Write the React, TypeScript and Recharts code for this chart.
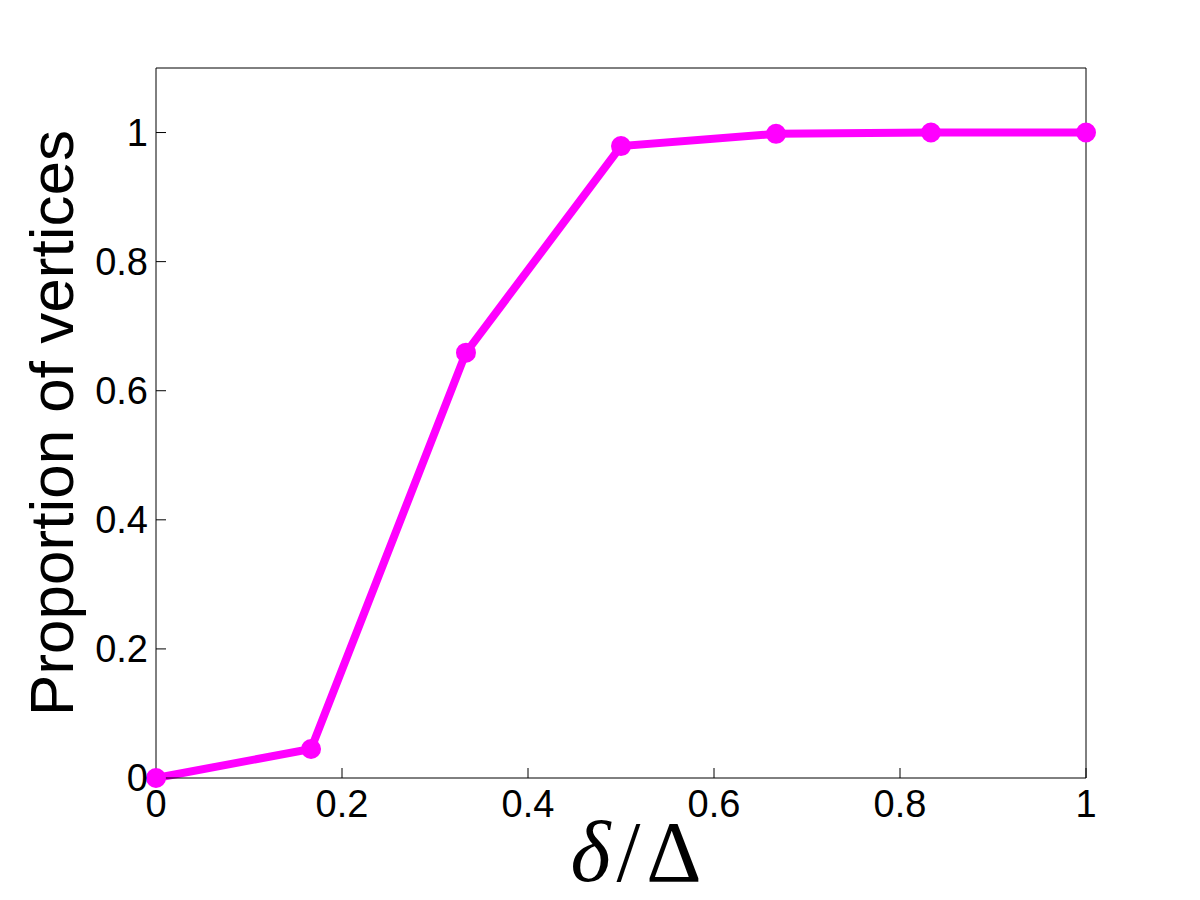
import React from "react";
import { LineChart, Line, XAxis, YAxis } from "recharts";

const ratios = [0, 0.1667, 0.3333, 0.5, 0.6667, 0.8333, 1];
const proportions = [0, 0.045, 0.659, 0.979, 0.998, 1.0, 1.0];
const xTicks = [0, 0.2, 0.4, 0.6, 0.8, 1];
const yTicks = [0, 0.2, 0.4, 0.6, 0.8, 1];

const data = ratios.map((x, i) => ({ x, p: proportions[i] }));

const SANS = "'Liberation Sans', Arial, Helvetica, sans-serif";
const SERIF = "'Liberation Serif', 'Times New Roman', serif";
const MAGENTA = "#ff00ff";

const fmt = (v: number) => String(v);

function XLabel(props: any) {
  const vb = props.viewBox || { x: 0, y: 0, width: 0, height: 0 };
  const cx = vb.x + vb.width / 2 + 15;
  return (
    <text x={cx} y={vb.y + 103} textAnchor="middle" fontFamily={SERIF} fontSize={86} fill="#000">
      <tspan fontStyle="italic">δ</tspan>
      <tspan dx={6}>/</tspan>
      <tspan dx={6}>Δ</tspan>
    </text>
  );
}

function YLabel(props: any) {
  const vb = props.viewBox || { x: 0, y: 0, width: 0, height: 0 };
  const cy = vb.y + vb.height / 2;
  const x = 73;
  return (
    <text
      x={x}
      y={cy}
      textAnchor="middle"
      transform={`rotate(-90, ${x}, ${cy})`}
      fontFamily={SANS}
      fontSize={62}
      fill="#000"
    >
      Proportion of vertices
    </text>
  );
}

export default function App() {
  const tickStyle = { fontSize: 38, fill: "#000", fontFamily: SANS };
  return (
    <div style={{ position: "absolute", left: 0, top: 0, width: 1200, height: 900, background: "#fff" }}>
      <LineChart width={1200} height={900} data={data} margin={{ top: 67, right: 113, bottom: 62, left: 76 }}>
        <XAxis
          dataKey="x"
          type="number"
          domain={[0, 1]}
          ticks={xTicks}
          tickFormatter={fmt}
          height={60}
          tickSize={-10}
          tickMargin={22}
          stroke="#000"
          tick={tickStyle}
          interval={0}
          label={(p: any) => <XLabel {...p} />}
        />
        <XAxis
          xAxisId="top"
          orientation="top"
          type="number"
          domain={[0, 1]}
          ticks={xTicks}
          height={1}
          tickSize={-10}
          tick={false}
          stroke="#000"
          interval={0}
        />
        <YAxis
          type="number"
          domain={[0, 1.1]}
          ticks={yTicks}
          tickFormatter={fmt}
          width={80}
          tickSize={-10}
          tickMargin={18}
          stroke="#000"
          tick={tickStyle}
          interval={0}
          label={(p: any) => <YLabel {...p} />}
        />
        <YAxis
          yAxisId="right"
          orientation="right"
          type="number"
          domain={[0, 1.1]}
          ticks={yTicks}
          width={1}
          tickSize={-10}
          tick={false}
          stroke="#000"
          interval={0}
        />
        <Line
          type="linear"
          dataKey="p"
          stroke={MAGENTA}
          strokeWidth={8}
          dot={{ r: 9, fill: MAGENTA, stroke: MAGENTA, strokeWidth: 2 }}
          activeDot={false}
          isAnimationActive={false}
        />
      </LineChart>
    </div>
  );
}
